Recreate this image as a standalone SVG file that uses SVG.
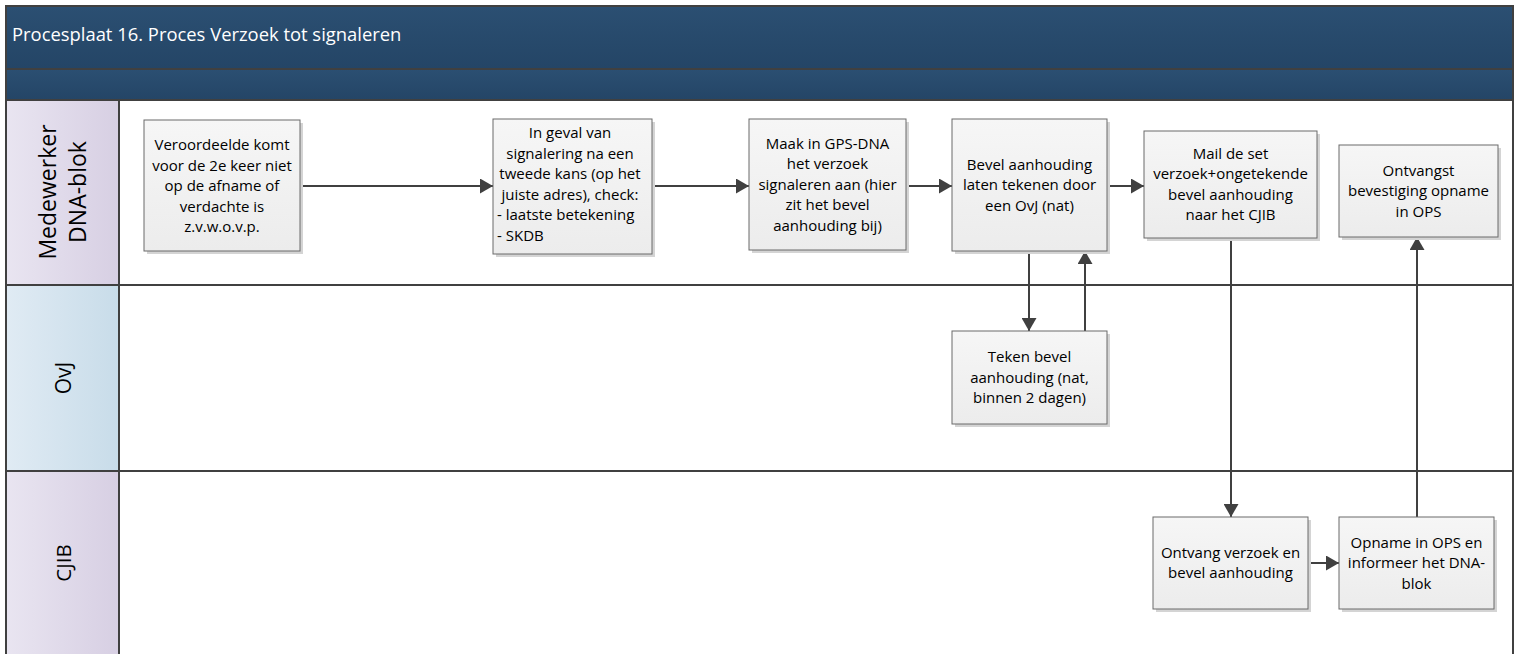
<svg xmlns="http://www.w3.org/2000/svg" width="1519" height="654" viewBox="0 0 1519 654">
<defs>
<linearGradient id="band" x1="0" y1="0" x2="0" y2="1"><stop offset="0" stop-color="#2b4f72"/><stop offset="1" stop-color="#244566"/></linearGradient>
<linearGradient id="purple" x1="0" y1="0" x2="1" y2="0"><stop offset="0" stop-color="#e9e5f1"/><stop offset="1" stop-color="#d7cfe3"/></linearGradient>
<linearGradient id="blue" x1="0" y1="0" x2="1" y2="0"><stop offset="0" stop-color="#e0ebf4"/><stop offset="1" stop-color="#c8dce9"/></linearGradient>
<linearGradient id="box" x1="0" y1="0" x2="0" y2="1"><stop offset="0" stop-color="#f6f6f6"/><stop offset="1" stop-color="#ececec"/></linearGradient>
<marker id="arr" markerUnits="userSpaceOnUse" markerWidth="14" markerHeight="15" refX="13" refY="7.5" orient="auto"><path d="M0,0 L13,7.5 L0,15 z" fill="#404040"/></marker>
</defs>
<style>
.box{fill:url(#box);stroke:#6a6a6a;stroke-width:1}
.sh{fill:#d4d4d4}
.t{font-family:"Open Sans","Liberation Sans",sans-serif;font-size:15px;fill:#000;text-anchor:middle}
.tl{font-family:"Open Sans","Liberation Sans",sans-serif;font-size:15px;fill:#000}
.lane{font-family:"Open Sans","Liberation Sans",sans-serif;fill:#000;text-anchor:middle}
.c{fill:none;stroke:#404040;stroke-width:2;marker-end:url(#arr)}
.sep{stroke:#404040;stroke-width:2;fill:none}
</style>
<rect x="0" y="0" width="1519" height="654" fill="#fff"/>
<g id="frame">
<rect x="6" y="6" width="1507" height="63" fill="url(#band)"/>
<rect x="6" y="69" width="1507" height="31" fill="url(#band)"/>
<text x="12" y="41" font-family="Open Sans, Liberation Sans, sans-serif" font-size="18.4" fill="#fff">Procesplaat 16. Proces Verzoek tot signaleren</text>
<rect x="6" y="100" width="113" height="185" fill="url(#purple)"/>
<rect x="6" y="285" width="113" height="186" fill="url(#blue)"/>
<rect x="6" y="471" width="113" height="190" fill="url(#purple)"/>
<line class="sep" x1="6" y1="69" x2="1513" y2="69"/>
<line class="sep" x1="6" y1="100" x2="1513" y2="100"/>
<line class="sep" x1="6" y1="285" x2="1513" y2="285"/>
<line class="sep" x1="6" y1="471" x2="1513" y2="471"/>
<line class="sep" x1="119" y1="100" x2="119" y2="654"/>
<rect x="6" y="6" width="1507" height="660" fill="none" stroke="#404040" stroke-width="2"/>
</g>
<g id="lane-medewerker"><text class="lane" font-size="23" transform="translate(56,192) rotate(-90)"><tspan x="0" y="0">Medewerker</tspan><tspan x="0" y="30">DNA-blok</tspan></text></g>
<g id="lane-ovj"><text class="lane" font-size="21" transform="translate(71,378) rotate(-90)">OvJ</text></g>
<g id="lane-cjib"><text class="lane" font-size="20.5" transform="translate(71,563) rotate(-90)">CJIB</text></g>

<g id="connectors">
<line class="c" x1="300" y1="186" x2="493" y2="186"/>
<line class="c" x1="652" y1="186" x2="749" y2="186"/>
<line class="c" x1="906" y1="186" x2="952" y2="186"/>
<line class="c" x1="1107" y1="186" x2="1144" y2="186"/>
<line class="c" x1="1029" y1="251" x2="1029" y2="331"/>
<line class="c" x1="1085" y1="331" x2="1085" y2="251"/>
<line class="c" x1="1231" y1="238" x2="1231" y2="517"/>
<line class="c" x1="1308" y1="563" x2="1339" y2="563"/>
<line class="c" x1="1417" y1="517" x2="1417" y2="237"/>
</g>

<g id="n1"><rect class="sh" x="147" y="123" width="156" height="131"/><rect class="box" x="144" y="120" width="156" height="131"/>
<text class="t"><tspan x="222" y="150">Veroordeelde komt</tspan><tspan x="222" y="170.5">voor de 2e keer niet</tspan><tspan x="222" y="191">op de afname of</tspan><tspan x="222" y="211.5">verdachte is</tspan><tspan x="222" y="232">z.v.w.o.v.p.</tspan></text></g>

<g id="n2"><rect class="sh" x="496" y="122" width="159" height="135"/><rect class="box" x="493" y="119" width="159" height="135"/>
<text class="t"><tspan x="570" y="138">In geval van</tspan><tspan x="570" y="158.5">signalering na een</tspan><tspan x="570" y="179">tweede kans (op het</tspan><tspan x="570" y="199.5">juiste adres), check:</tspan></text>
<text class="tl"><tspan x="497" y="220">- laatste betekening</tspan><tspan x="497" y="240.5">- SKDB</tspan></text></g>

<g id="n3"><rect class="sh" x="752" y="122" width="157" height="131"/><rect class="box" x="749" y="119" width="157" height="131"/>
<text class="t"><tspan x="827.5" y="148.5">Maak in GPS-DNA</tspan><tspan x="827.5" y="169">het verzoek</tspan><tspan x="827.5" y="189.5">signaleren aan (hier</tspan><tspan x="827.5" y="210">zit het bevel</tspan><tspan x="827.5" y="230.5">aanhouding bij)</tspan></text></g>

<g id="n4"><rect class="sh" x="955" y="122" width="155" height="132"/><rect class="box" x="952" y="119" width="155" height="132"/>
<text class="t"><tspan x="1029.5" y="169.5">Bevel aanhouding</tspan><tspan x="1029.5" y="190">laten tekenen door</tspan><tspan x="1029.5" y="210.5">een OvJ (nat)</tspan></text></g>

<g id="n5"><rect class="sh" x="1147" y="134" width="173" height="107"/><rect class="box" x="1144" y="131" width="173" height="107"/>
<text class="t"><tspan x="1230.5" y="158.75">Mail de set</tspan><tspan x="1230.5" y="179.25">verzoek+ongetekende</tspan><tspan x="1230.5" y="199.75">bevel aanhouding</tspan><tspan x="1230.5" y="220.25">naar het CJIB</tspan></text></g>

<g id="n6"><rect class="sh" x="1342" y="148" width="159" height="92"/><rect class="box" x="1339" y="145" width="159" height="92"/>
<text class="t"><tspan x="1418.5" y="175.5">Ontvangst</tspan><tspan x="1418.5" y="196">bevestiging opname</tspan><tspan x="1418.5" y="216.5">in OPS</tspan></text></g>

<g id="n7"><rect class="sh" x="955" y="334" width="155" height="93"/><rect class="box" x="952" y="331" width="155" height="93"/>
<text class="t"><tspan x="1029.5" y="362">Teken bevel</tspan><tspan x="1029.5" y="382.5">aanhouding (nat,</tspan><tspan x="1029.5" y="403">binnen 2 dagen)</tspan></text></g>

<g id="n8"><rect class="sh" x="1156" y="520" width="155" height="92"/><rect class="box" x="1153" y="517" width="155" height="92"/>
<text class="t"><tspan x="1230.5" y="557.75">Ontvang verzoek en</tspan><tspan x="1230.5" y="578.25">bevel aanhouding</tspan></text></g>

<g id="n9"><rect class="sh" x="1342" y="520" width="155" height="92"/><rect class="box" x="1339" y="517" width="155" height="92"/>
<text class="t"><tspan x="1416.5" y="547.5">Opname in OPS en</tspan><tspan x="1416.5" y="568">informeer het DNA-</tspan><tspan x="1416.5" y="588.5">blok</tspan></text></g>
</svg>
